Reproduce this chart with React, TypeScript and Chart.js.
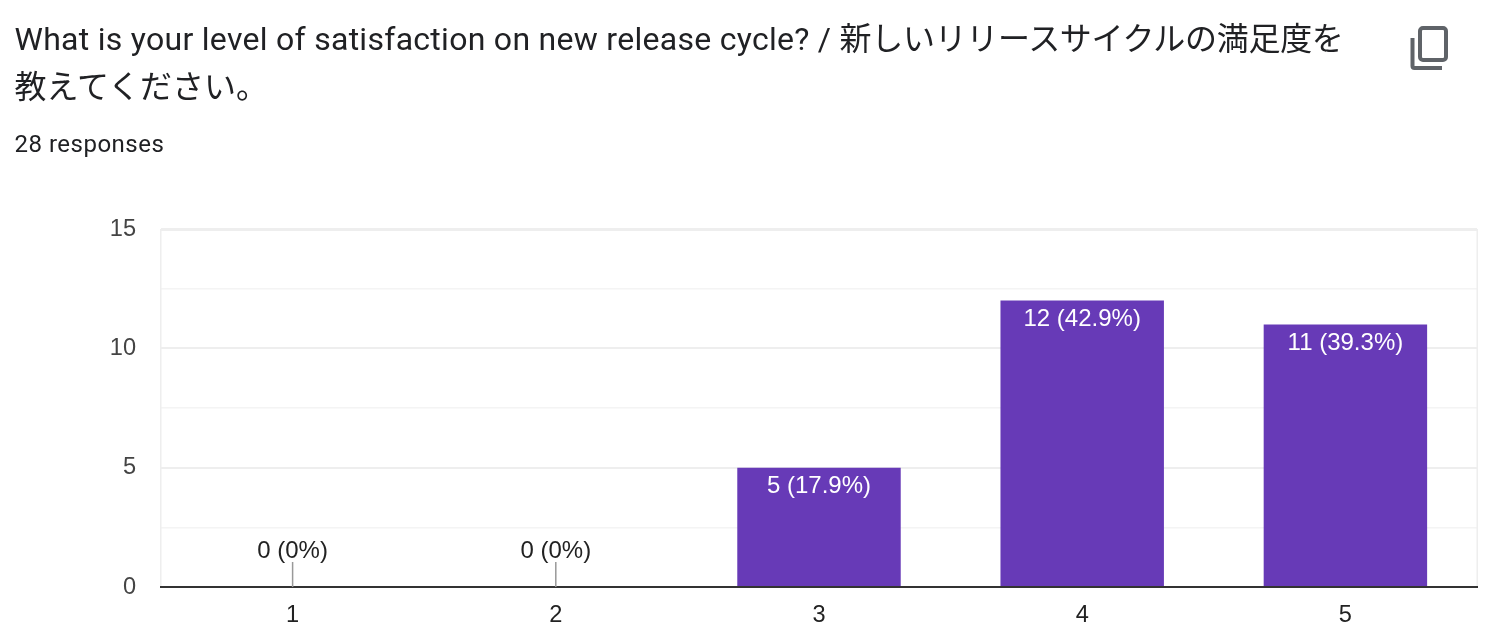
import React, { useEffect, useRef } from "react";
import { Chart, registerables } from "chart.js";

Chart.register(...registerables);

const categories = ["1", "2", "3", "4", "5"];
const responses = [0, 0, 5, 12, 11];
const barLabels = ["0 (0%)", "0 (0%)", "5 (17.9%)", "12 (42.9%)", "11 (39.3%)"];
const yTicksShown = [0, 5, 10, 15];

const CHART_FONT = "'Liberation Sans', Arial, sans-serif";

const barLabelPlugin = {
  id: "barLabels",
  afterDatasetsDraw(chart: any) {
    const { ctx } = chart;
    const meta = chart.getDatasetMeta(0);
    const y0 = chart.scales.y.getPixelForValue(0);
    ctx.save();
    ctx.font = `24px ${CHART_FONT}`;
    ctx.textAlign = "center";
    ctx.textBaseline = "middle";
    meta.data.forEach((bar: any, i: number) => {
      if (responses[i] === 0) {
        ctx.strokeStyle = "#999999";
        ctx.lineWidth = 1.5;
        ctx.beginPath();
        ctx.moveTo(bar.x, y0);
        ctx.lineTo(bar.x, y0 - 25);
        ctx.stroke();
        ctx.fillStyle = "#222222";
        ctx.fillText(barLabels[i], bar.x, y0 - 36);
      } else {
        ctx.fillStyle = "#ffffff";
        ctx.fillText(barLabels[i], bar.x, bar.y + 18.5);
      }
    });
    ctx.restore();
  },
};

const frameLinesPlugin = {
  id: "frameLines",
  beforeDatasetsDraw(chart: any) {
    const { ctx, chartArea } = chart;
    ctx.save();
    ctx.fillStyle = "#eeeeee";
    ctx.fillRect(chartArea.left - 1, chartArea.top, 1.5, chartArea.bottom - chartArea.top);
    ctx.fillRect(chartArea.right - 0.5, chartArea.top, 1.5, chartArea.bottom - chartArea.top);
    ctx.restore();
  },
  afterDatasetsDraw(chart: any) {
    const { ctx, chartArea } = chart;
    ctx.save();
    ctx.fillStyle = "#333333";
    ctx.fillRect(chartArea.left - 1, chartArea.bottom - 1, chartArea.right - chartArea.left + 2, 2);
    ctx.restore();
  },
};

export default function App() {
  const ref = useRef<HTMLCanvasElement>(null);

  useEffect(() => {
    const chart = new Chart(ref.current as HTMLCanvasElement, {
      type: "bar",
      data: {
        labels: categories,
        datasets: [
          {
            data: responses,
            backgroundColor: "#673ab7",
            barPercentage: 1,
            categoryPercentage: 0.621,
            borderWidth: 0,
          },
        ],
      },
      options: {
        animation: false,
        responsive: false,
        layout: { padding: { top: 229, right: 11, bottom: 0, left: 0 } },
        plugins: { legend: { display: false }, tooltip: { enabled: false }, title: { display: false } },
        scales: {
          x: {
            afterFit: (axis: any) => {
              axis.height = 57;
            },
            grid: { display: false },
            border: { display: false },
            ticks: {
              color: "#222222",
              font: { family: CHART_FONT, size: 23.6 },
              padding: 6,
              maxRotation: 0,
            },
          },
          y: {
            min: 0,
            max: 15,
            afterFit: (axis: any) => {
              axis.width = 161;
            },
            afterBuildTicks: (axis: any) => {
              axis.ticks = [0, 2.5, 5, 7.5, 10, 12.5, 15].map((value) => ({ value }));
            },
            border: { display: false },
            grid: {
              drawTicks: false,
              color: (c: any) => (yTicksShown.includes(c.tick.value) ? "#eeeeee" : "#f4f4f4"),
              lineWidth: (c: any) => (c.tick.value === 15 ? 3 : yTicksShown.includes(c.tick.value) ? 2 : 1.5),
            },
            ticks: {
              autoSkip: false,
              color: "#444444",
              font: { family: CHART_FONT, size: 23.6 },
              padding: 25,
              callback: (v: any) => (yTicksShown.includes(Number(v)) ? String(v) : ""),
            },
          },
        },
      },
      plugins: [frameLinesPlugin, barLabelPlugin],
    } as any);
    return () => chart.destroy();
  }, []);

  const cjk = "Roboto, 'Noto Sans CJK JP', sans-serif";
  return (
    <div style={{ position: "absolute", left: 0, top: 0, width: 1488, height: 644, background: "#fff", overflow: "hidden" }}>
      <canvas ref={ref} width={1488} height={644} style={{ position: "absolute", left: 0, top: 0, display: "block" }} />
      <div
        style={{
          position: "absolute",
          left: 14.5,
          top: 15,
          width: 1360,
          fontFamily: cjk,
          fontSize: 32,
          lineHeight: "48px",
          color: "#202124",
          whiteSpace: "nowrap",
        }}
      >
        <span style={{ letterSpacing: 0.28 }}>What is your level of satisfaction on new release cycle? / </span>
        <span style={{ letterSpacing: -0.3 }}>新しいリリースサイクルの満足度を</span>
        <br />
        教えてください。
      </div>
      <div
        style={{
          position: "absolute",
          left: 14.5,
          top: 128,
          fontFamily: cjk,
          fontSize: 24,
          lineHeight: "32px",
          letterSpacing: 0.5,
          color: "#202124",
        }}
      >
        28 responses
      </div>
      <svg width="48" height="56" viewBox="0 0 48 56" style={{ position: "absolute", left: 1406, top: 20 }}>
        <rect x="14" y="8" width="26" height="32" rx="3" fill="none" stroke="#5f6368" strokeWidth="4" />
        <path d="M6.5 18 V46 a2 2 0 0 0 2 2 H36" fill="none" stroke="#5f6368" strokeWidth="4" />
      </svg>
    </div>
  );
}
